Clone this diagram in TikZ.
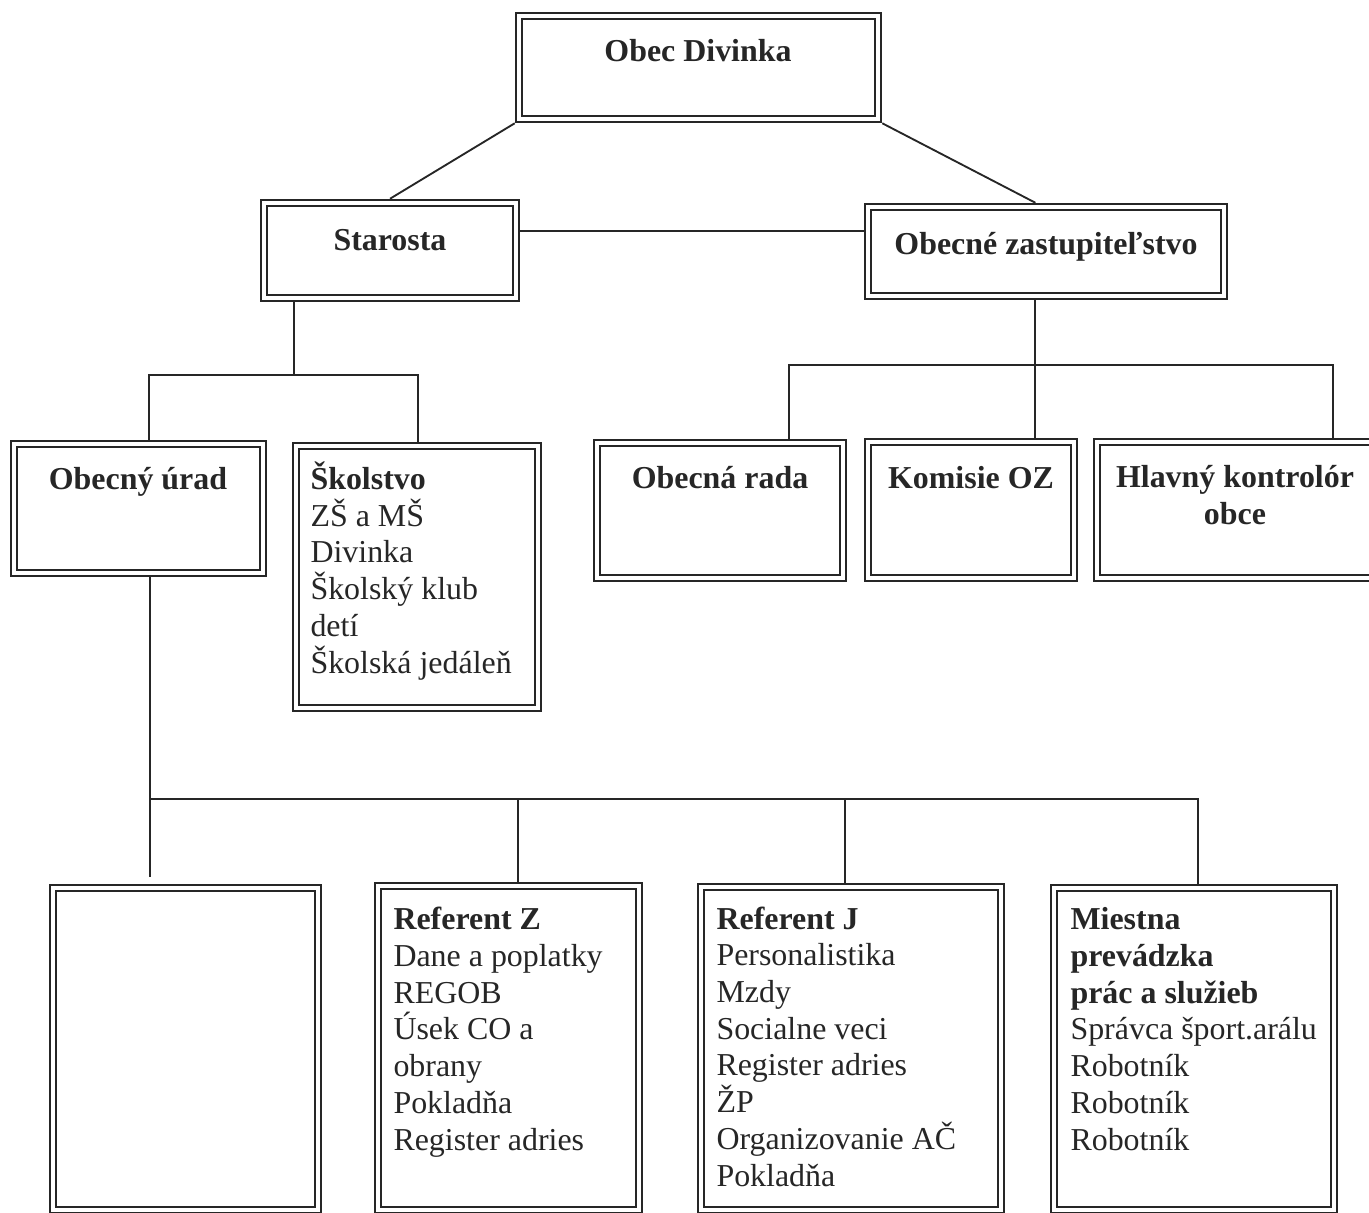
\documentclass[tikz,border=0pt]{standalone}
\usepackage{fontspec}
\setmainfont{Liberation Serif}
\usetikzlibrary{fit,positioning}

\begin{document}
\begin{tikzpicture}[x=0.376pt,y=-0.376pt,
      box/.style={draw=black!85,line width=0.8pt,double=white,double distance=1.6pt,inner sep=0pt,outer sep=1.6pt},
      link/.style={draw=black!85,line width=0.7pt},
      head/.style={anchor=base,font=\bfseries,text=black!85,inner sep=0pt},
      items/.style={anchor=base west,align=left,text=black!85,inner sep=0pt},
      ]
      \fontsize{12}{13.8}\selectfont
      \useasboundingbox (0,0) rectangle (1369,1212);

      \node (obec) [box,fit={(519,16) (878,119)}] {};
      \node (sta) [box,fit={(264,203) (516,298)}] {};
      \node (oz) [box,fit={(868,207) (1224,296)}] {};
      \node (ou) [box,fit={(14,444) (263,573)}] {};
      \node (sk) [box,fit={(296,446) (538,708)}] {};
      \node (rada) [box,fit={(597,443) (843,578)}] {};
      \node (kom) [box,fit={(868,442) (1074,578)}] {};
      \node (hk) [box,fit={(1097,442) (1376,578)}] {};
      \node (prazdny) [box,fit={(53,888) (318,1210)}] {};
      \node (refz) [box,fit={(378,886) (639,1210)}] {};
      \node (refj) [box,fit={(701,887) (1001,1210)}] {};
      \node (mp) [box,fit={(1054,888) (1334,1210)}] {};

      \node (tObec) [head] at (698,61) {Obec Divinka};
      \node (tSta) [head] at (390,250) {Starosta};
      \node (tOz) [head] at (1046,254) {Obecné zastupiteľstvo};
      \node (tOu) [head] at (138,489) {Obecný úrad};
      \node (tRada) [head] at (720,488) {Obecná rada};
      \node (tKom) [head] at (971,488) {Komisie OZ};
      \node (tHk) [head,align=center] at (1235,524) {Hlavný kontrolór\\obce};
      \node (tSk) [items] at (310,673) {\textbf{Školstvo}\\ZŠ a MŠ\\Divinka\\Školský klub\\detí\\Školská jedáleň};
      \node (tRefz) [items] at (393,1150) {\textbf{Referent Z}\\Dane a poplatky\\REGOB\\Úsek CO a\\obrany\\Pokladňa\\Register adries};
      \node (tRefj) [items] at (716,1186) {\textbf{Referent J}\\Personalistika\\Mzdy\\Socialne veci\\Register adries\\ŽP\\Organizovanie AČ\\Pokladňa};
      \node (tMp) [items] at (1070,1150) {\textbf{Miestna}\\\textbf{prevádzka}\\\textbf{prác a služieb}\\Správca šport.arálu\\Robotník\\Robotník\\Robotník};

      \coordinate (jSl) at (149,375);
      \coordinate (jSr) at (418,375);
      \coordinate (jS) at (294,375);
      \coordinate (jZl) at (789,365);
      \coordinate (jZr) at (1333,365);
      \coordinate (jUl) at (150,799);
      \coordinate (jUr) at (1198,799);
      \coordinate (jUe) at (150,877);

      \draw [link] (obec.south west) -- (sta.north);
      \draw [link] (obec.south east) -- ([xshift=-4pt]oz.north);
      \draw [link] ([yshift=7.3pt]sta.east) -- ([yshift=7.3pt]sta.east -| oz.west);
      \draw [link] (jS |- sta.south) -- (jS);
      \draw [link] (jSl |- ou.north) -- (jSl) -- (jSr) -- (jSr |- sk.north);
      \draw [link] ([xshift=-4pt]oz.south) -- ([xshift=-4pt]oz.south |- kom.north);
      \draw [link] (jZl |- rada.north) -- (jZl) -- (jZr) -- (jZr |- hk.north);
      \draw [link] (jUl |- ou.south) -- (jUe);
      \draw [link] (jUl) -- (jUr) -- (jUr |- mp.north);
      \foreach \x/\b in {518/refz,845/refj}
        \draw [link] (\x,799) -- (\x,799 |- \b.north);
  \end{tikzpicture}
\end{document}
